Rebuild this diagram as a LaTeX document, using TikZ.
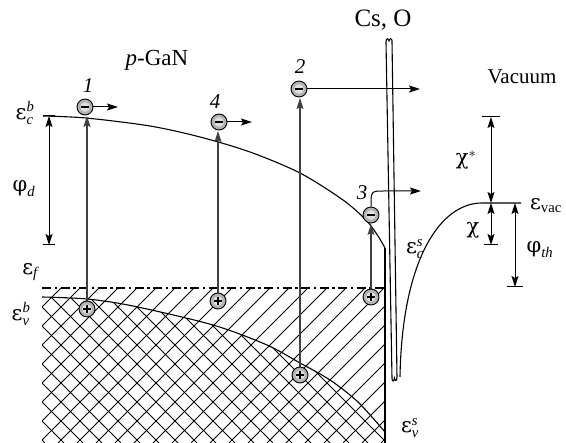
\documentclass[tikz,border=0pt]{standalone}
\usepackage{fontspec}
\setmainfont{Liberation Serif}
\newfontfamily\grk{DejaVu Serif}
\usepackage{amsmath}
\usetikzlibrary{arrows.meta}
\newcommand{\enlev}[3]{$\text{\grk #1}^{\text{\itshape #2}}_{\text{\itshape #3}}$}
\begin{document}
\begin{tikzpicture}[x=1pt,y=-1pt,
  font=\fontsize{21}{24}\selectfont,
  band/.style={line width=1.1pt},
  hatch/.style={line width=0.8pt},
  tip/.tip={Stealth[length=11pt,width=7pt,inset=2pt]},
  harr/.style={line width=1pt,-tip},
  varr/.style={line width=1.3pt,draw=black!75,-tip},
  dimarr/.style={line width=1pt,tip-tip},
  tick/.style={line width=1pt},
  particle/.style={circle,draw=black,fill=gray!60,line width=0.9pt,minimum size=16pt,inner sep=0pt},
  electron/.style={particle,path picture={
     \fill[gray!25] (path picture bounding box.center) circle (4.8pt);
     \draw[line width=2.4pt] ([xshift=-4.2pt]path picture bounding box.center) -- ([xshift=4.2pt]path picture bounding box.center);}},
  hole/.style={particle,path picture={
     \fill[gray!25] (path picture bounding box.center) circle (4.8pt);
     \draw[line width=1.4pt] ([xshift=-4pt]path picture bounding box.center) -- ([xshift=4pt]path picture bounding box.center);
     \draw[line width=1.4pt] ([yshift=-4pt]path picture bounding box.center) -- ([yshift=4pt]path picture bounding box.center);}},
  lbl/.style={inner sep=0pt}
]
\useasboundingbox (0,0) rectangle (566,443);

% ---------- hatching ----------
\begin{scope}
  \clip (42,288) rectangle (385,443);
  \foreach \c in {330,349,...,840} \draw[hatch] ({\c-443},443) -- ({\c-288},288);
\end{scope}
\begin{scope}
  \clip plot[smooth] coordinates {(42,297) (87,299) (133,306) (213,325) (267,345) (300,363) (330,380) (358,402) (385,432)} -- (385,443) -- (42,443) -- cycle;
  \foreach \c in {-417,-398,...,100} \draw[hatch] ({\c+288},288) -- ({\c+443},443);
\end{scope}

% ---------- bands ----------
\draw[band] plot[smooth] coordinates {(43,116) (86,118) (150,126) (200,137) (250,152) (300,173) (343,200) (366,220) (378,236) (385,248)};
\draw[band] plot[smooth] coordinates {(42,297) (87,299) (133,306) (213,325) (267,345) (300,363) (330,380) (358,402) (385,432)};
\draw[line width=2.8pt,dash pattern=on 9pt off 3.5pt on 2.5pt off 3.5pt] (42,288) -- (385,288);
\draw[band] (385,248) -- (385,443);

% ---------- Cs,O layer ----------
\draw[band] (392,378) -- (386,42) .. controls (386,38) and (388.5,38) .. (389,41)
   .. controls (389.5,38) and (392,38) .. (392,41) -- (397,377)
   .. controls (397,381) and (395,382) .. (394.5,378) .. controls (394,382) and (392,382) .. (392,378);

% ---------- vacuum level ----------
\coordinate (vtop) at (482,203);
\draw[band] (400,377) .. controls (402,260) and (440,203) .. (vtop) -- (521,203);

% ---------- particles positions ----------
\coordinate (e1) at (85,107);
\coordinate (e2) at (299,89);
\coordinate (e3) at (371,215);
\coordinate (e4) at (219,122);
\coordinate (h1) at (87,309);
\coordinate (h2) at (300,375);
\coordinate (h3) at (371,297);
\coordinate (h4) at (218,301);
\coordinate (t1) at (87,116);
\coordinate (t2) at (300,98);
\coordinate (t3) at (371,224);
\coordinate (t4) at (218,131);

% vertical excitation arrows
\draw[varr] (h1) -- (t1);
\draw[varr] (h4) -- (t4);
\draw[varr] (h2) -- (t2);
\draw[varr] (h3) -- (t3);

% particles
\node[electron] (n1) at (e1) {};
\node[electron] (n2) at (e2) {};
\node[electron] (n3) at (e3) {};
\node[electron] (n4) at (e4) {};
\node[hole] (p1) at (h1) {};
\node[hole] (p2) at (h2) {};
\node[hole] (p3) at (h3) {};
\node[hole] (p4) at (h4) {};

% horizontal arrows
\coordinate (a1) at (118,107);
\coordinate (a4) at (252,122);
\coordinate (a2) at (420,89);
\coordinate (a3) at (421,191);
\draw[harr] (n1.east) -- (a1);
\draw[harr] (n4.east) -- (a4);
\draw[harr] (n2.east) -- (a2);
\draw[harr] (n3.north) .. controls (371,191) .. (384,191) -- (a3);

% labels of particles
\node[lbl] (l1) at (88,86) {\textit{1}};
\node[lbl] (l2) at (300,67) {\textit{2}};
\node[lbl] (l3) at (362,193) {\textit{3}};
\node[lbl] (l4) at (215,102) {\textit{4}};

% ---------- dimension arrows ----------
\draw[tick] (43,116) -- (55,116);
\draw[tick] (43,245) -- (55,245);
\draw[dimarr] (49,116) -- (49,245);

\draw[tick] (482,117) -- (500,117);
\draw[dimarr] (491,117) -- (491,203);
\draw[tick] (484,245) -- (498,245);
\draw[dimarr] (491,203) -- (491,245);
\draw[tick] (507,287) -- (523,287);
\draw[dimarr] (515,203) -- (515,287);

% ---------- texts ----------
\node[lbl] (pgan) at (157,60) {\fontsize{23}{26}\selectfont\textit{p}-GaN};
\node[lbl] (vacuum) at (522,77) {Vacuum};
\node[lbl] (cso) at (383,20) {\fontsize{25}{28}\selectfont Cs, O};
\node[lbl] (ecb) at (25,113) {\enlev{ε}{b}{c}};
\node[lbl] (ef) at (30,272) {$\text{\grk ε}_{\text{\itshape f}}$};
\node[lbl] (evb) at (21,314) {\enlev{ε}{b}{v}};
\node[lbl] (phid) at (24,189) {$\text{\grk φ}_{\text{\itshape d}}$};
\node[lbl] (ecs) at (415,249) {\enlev{ε}{s}{c}};
\node[lbl] (evs) at (410,428) {\enlev{ε}{s}{v}};
\node[lbl] (chis) at (466,160) {$\text{\grk χ}^{*}$};
\node[lbl] (chi) at (473,230) {\grk χ};
\node[lbl] (phith) at (540,250) {$\text{\grk φ}_{\text{\itshape th}}$};
\node[lbl] (evac) at (546,206) {$\text{\grk ε}_{\text{vac}}$};
\end{tikzpicture}
\end{document}
